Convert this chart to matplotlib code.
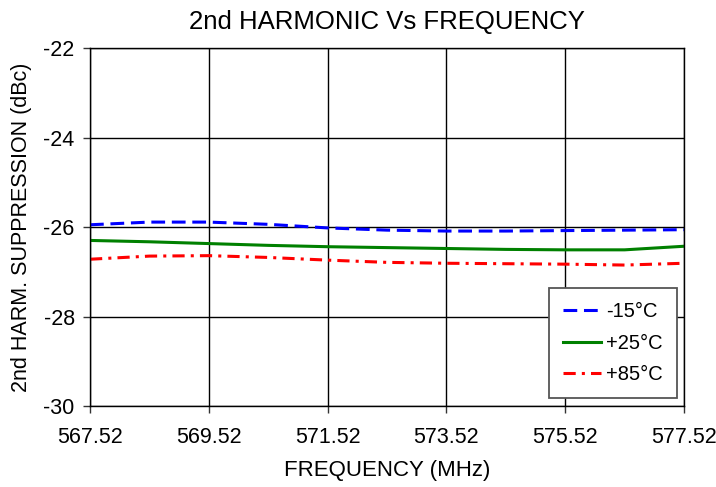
import matplotlib.pyplot as plt
import numpy as np

plt.rcParams['font.family'] = ['Liberation Sans', 'DejaVu Sans']
plt.rcParams['axes.unicode_minus'] = False

# frequency points (MHz) and 2nd harmonic suppression (dBc) per temperature
freq = [567.52, 568.52, 569.52, 570.52, 571.52, 572.52, 573.52, 574.52, 575.52, 576.52, 577.52]
h2_m15 = [-25.95, -25.89, -25.89, -25.94, -26.02, -26.07, -26.09, -26.09, -26.08, -26.07, -26.06]
h2_p25 = [-26.30, -26.33, -26.37, -26.41, -26.44, -26.46, -26.48, -26.50, -26.51, -26.51, -26.43]
h2_p85 = [-26.72, -26.65, -26.64, -26.68, -26.74, -26.79, -26.81, -26.82, -26.83, -26.85, -26.81]

xticks = [567.52, 569.52, 571.52, 573.52, 575.52, 577.52]
yticks = [-30, -28, -26, -24, -22]

fig = plt.figure(figsize=(7.16, 4.87), dpi=100)
ax = fig.add_axes([0.1257, 0.1663, 0.8296, 0.7351])

ax.plot(freq, h2_m15, color='#0000ff', lw=2.2, dashes=(4.5, 2.2), label='-15°C')
ax.plot(freq, h2_p25, color='#008000', lw=2.2, label='+25°C')
ax.plot(freq, h2_p85, color='#ff0000', lw=2.2, dashes=(4, 2, 1, 2), label='+85°C')

ax.set_xlim(567.52, 577.52)
ax.set_ylim(-30, -22)
ax.set_xticks(xticks)
ax.set_xticklabels([f'{v:.2f}' for v in xticks])
ax.set_yticks(yticks)
ax.grid(True, color='black', lw=1)
ax.set_axisbelow(True)
for s in ax.spines.values():
    s.set_color('black')
    s.set_linewidth(1)
ax.tick_params(direction='out', length=5, width=1, color='#333333', labelsize=15.5)
ax.tick_params(axis='x', pad=10)
ax.tick_params(axis='y', pad=6)

ax.set_title('2nd HARMONIC Vs FREQUENCY', fontsize=18.5, pad=14)
ax.set_xlabel('FREQUENCY (MHz)', fontsize=16, labelpad=9)
ax.set_ylabel('2nd HARM. SUPPRESSION (dBc)', fontsize=15.5, labelpad=8)

leg = ax.legend(loc='lower right', bbox_to_anchor=(0.988, 0.022), fontsize=14.5,
                fancybox=False, framealpha=1, edgecolor='#555555',
                handlelength=1.9, handletextpad=0.25, labelspacing=0.62,
                borderpad=0.7, borderaxespad=0)
leg.get_frame().set_linewidth(1.3)

fig.savefig('out.png', dpi=100)
